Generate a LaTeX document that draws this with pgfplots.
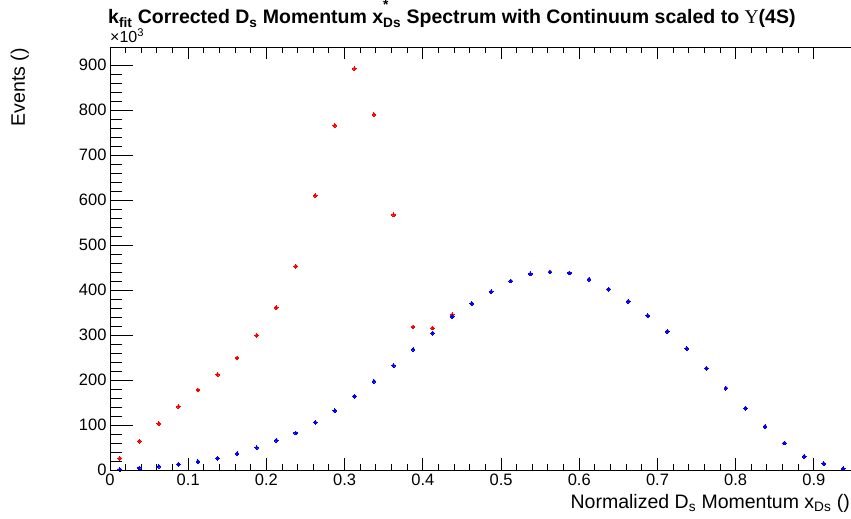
\documentclass[border=0pt]{standalone}
\usepackage{fontspec}
\setmainfont{Liberation Sans}
\newfontfamily\serifU{Liberation Serif}
\usepackage{pgfplots}
\pgfplotsset{compat=1.18}
\pgfplotsset{
  rootaxis/.style={
    at={(0,0)}, anchor=south west,
    scale only axis, width=743bp, height=423bp,
    xmin=0, xmax=0.95, ymin=0, ymax=940,
    tick align=inside, tick pos=both,
    axis line style={line width=1bp},
    every tick/.style={black, line width=1bp},
    /pgf/number format/assume math mode=true,
    ticklabel style={font=\fontsize{16.5bp}{19bp}\selectfont},
    scaled y ticks=false,
  }
}
\begin{document}
\begin{tikzpicture}
\begin{axis}[rootaxis,
  xtick={0,0.1,0.2,0.3,0.4,0.5,0.6,0.7,0.8,0.9},
  xticklabels={0,0.1,0.2,0.3,0.4,0.5,0.6,0.7,0.8,0.9},
  ytick=\empty,
  minor x tick num=4,
  major tick length=12bp, minor tick length=6bp,
]
\addplot[only marks, color=red, mark=*, mark size=1.9bp, mark options={draw=red, fill=red, line width=0pt}] coordinates {
(0.0125,26) (0.0375,64) (0.0625,103) (0.0875,141) (0.1125,178) (0.1375,212)
(0.1625,249) (0.1875,299) (0.2125,361) (0.2375,453) (0.2625,610) (0.2875,766)
(0.3125,892) (0.3375,790) (0.3625,567) (0.3875,318) (0.4125,315.5) (0.4375,345)
(0.4625,370) (0.4875,396) (0.5125,420) (0.5375,436) (0.5625,440) (0.5875,438)
(0.6125,424) (0.6375,402) (0.6625,375) (0.6875,343) (0.7125,308) (0.7375,270)
(0.7625,226) (0.7875,182) (0.8125,137) (0.8375,96.5) (0.8625,60) (0.8875,30.4)
(0.9125,14) (0.9375,3)
};
\addplot[only marks, color=blue, mark=*, mark size=1.9bp, mark options={draw=blue, fill=blue, line width=0pt}] coordinates {
(0.0125,1) (0.0375,4.5) (0.0625,8) (0.0875,12.6) (0.1125,18.6) (0.1375,26)
(0.1625,36.4) (0.1875,49.7) (0.2125,66) (0.2375,82.4) (0.2625,106) (0.2875,132)
(0.3125,164) (0.3375,197) (0.3625,232) (0.3875,268) (0.4125,304) (0.4375,341)
(0.4625,370) (0.4875,396) (0.5125,420) (0.5375,436) (0.5625,440) (0.5875,438)
(0.6125,424) (0.6375,402) (0.6625,375) (0.6875,343) (0.7125,308) (0.7375,270)
(0.7625,226) (0.7875,182) (0.8125,137) (0.8375,96.5) (0.8625,60) (0.8875,30.4)
(0.9125,14) (0.9375,3)
};
\end{axis}
\begin{axis}[rootaxis,
  xtick=\empty,
  ytick={0,100,200,300,400,500,600,700,800,900},
  minor y tick num=4,
  ytick pos=left,
  major tick length=23bp, minor tick length=12bp,
]
\end{axis}
\node[anchor=base west, inner sep=0pt, font=\bfseries\fontsize{19.5bp}{22bp}\selectfont] at (-2bp,446bp)
  {k\textsubscript{fit} Corrected D\textsubscript{s} Momentum x\rlap{\raisebox{0.35em}{\textsuperscript{*}}}\textsubscript{Ds} Spectrum with Continuum scaled to {\serifU\mdseries Υ}(4S)};
\node[anchor=base west, inner sep=0pt, font=\fontsize{16bp}{19bp}\selectfont] at (0bp,427bp) {×10\textsuperscript{3}};
\node[anchor=base east, inner sep=0pt, rotate=90, font=\fontsize{19.5bp}{22bp}\selectfont] at (-85bp,422bp) {Events ()};
\node[anchor=base east, inner sep=0pt, font=\fontsize{19.5bp}{22bp}\selectfont] at (740bp,-38bp) {Normalized D\textsubscript{s} Momentum x\textsubscript{Ds} ()};
\pgfresetboundingbox
\useasboundingbox (-110bp,-49bp) rectangle (741bp,470bp);
\end{tikzpicture}
\end{document}
